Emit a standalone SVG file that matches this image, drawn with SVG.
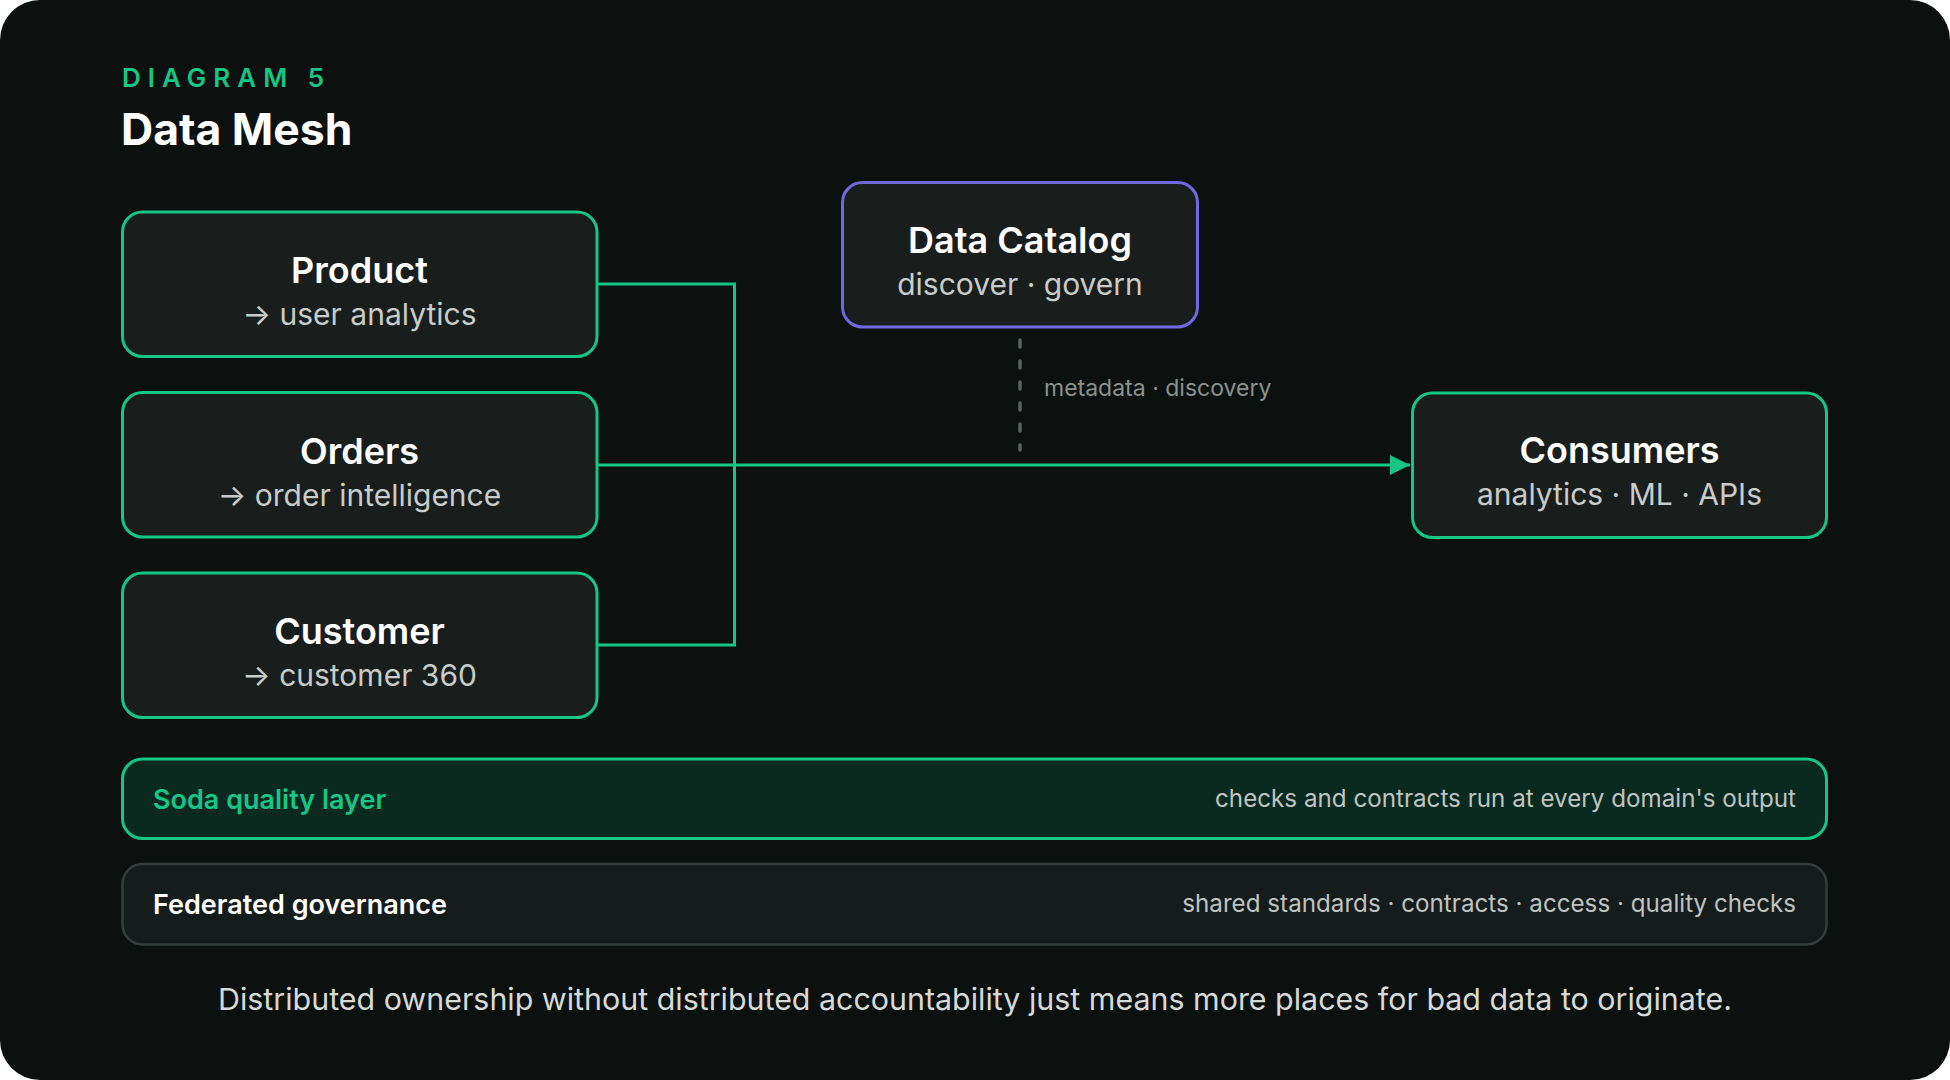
<svg xmlns="http://www.w3.org/2000/svg" width="1950" height="1080" viewBox="0 0 1950 1080">
  <defs>
    <style>
      text { font-family: Inter, "Noto Sans", "Liberation Sans", sans-serif; }
      .node { fill: #191e1d; stroke: #17c686; stroke-width: 3; }
      .cat { fill: #191e1d; stroke: #7468e0; stroke-width: 3; }
      .title { fill: #ffffff; font-size: 36px; font-weight: 600; text-anchor: middle; }
      .sub { fill: #c8ccca; font-size: 30px; font-weight: 400; text-anchor: middle; }
      .conn { fill: none; stroke: #17c686; stroke-width: 3; }
      .band-l { font-size: 27px; font-weight: 600; }
      .band-r { fill: #bfc4c2; font-size: 24.2px; font-weight: 400; text-anchor: end; }
    </style>
    <marker id="arrow" markerWidth="20" markerHeight="20" refX="20" refY="10" orient="auto" markerUnits="userSpaceOnUse">
      <path d="M0,0 L20,10 L0,20 Z" fill="#17c686"/>
    </marker>
  </defs>

  <rect x="0" y="0" width="1950" height="1080" fill="#ffffff"/>
  <rect x="0" y="0" width="1950" height="1080" rx="40" ry="40" fill="#0c1110"/>

  <g id="header">
    <text x="122" y="87" fill="#17c686" font-size="26" font-weight="600" letter-spacing="7">DIAGRAM 5</text>
    <text x="121" y="145" fill="#ffffff" font-size="44.5" font-weight="700">Data Mesh</text>
  </g>

  <g id="connectors">
    <path class="conn" d="M597,284 H734.5 V645 H597"/>
    <line class="conn" x1="597" y1="465" x2="1410" y2="465" marker-end="url(#arrow)"/>
    <line x1="1020" y1="340" x2="1020" y2="450" stroke="#5c6462" stroke-width="3.5" stroke-linecap="round" stroke-dasharray="7 14"/>
    <text x="1044" y="396" fill="#8b918f" font-size="23">metadata · discovery</text>
  </g>

  <g id="node-product">
    <rect class="node" x="122.5" y="212" width="474.5" height="144.5" rx="20"/>
    <text class="title" x="359.5" y="283">Product</text>
    <text class="sub" x="359.5" y="325">→ user analytics</text>
  </g>

  <g id="node-orders">
    <rect class="node" x="122.5" y="392.5" width="474.5" height="144.5" rx="20"/>
    <text class="title" x="359.5" y="463.5">Orders</text>
    <text class="sub" x="359.5" y="505.5">→ order intelligence</text>
  </g>

  <g id="node-customer">
    <rect class="node" x="122.5" y="573" width="474.5" height="144.5" rx="20"/>
    <text class="title" x="359.5" y="644">Customer</text>
    <text class="sub" x="359.5" y="686">→ customer 360</text>
  </g>

  <g id="node-catalog">
    <rect class="cat" x="842.5" y="182.5" width="355" height="144.5" rx="20"/>
    <text class="title" x="1020" y="253">Data Catalog</text>
    <text class="sub" x="1020" y="295">discover · govern</text>
  </g>

  <g id="node-consumers">
    <rect class="node" x="1412.5" y="393" width="414" height="144.5" rx="20"/>
    <text class="title" x="1619.5" y="463">Consumers</text>
    <text class="sub" x="1619.5" y="505">analytics · ML · APIs</text>
  </g>

  <g id="band-soda">
    <rect x="122.5" y="759" width="1704" height="79.5" rx="20" fill="#0a2a20" stroke="#17c686" stroke-width="3"/>
    <text class="band-l" x="153" y="809" fill="#17c686">Soda quality layer</text>
    <text class="band-r" x="1796" y="807">checks and contracts run at every domain's output</text>
  </g>

  <g id="band-governance">
    <rect x="122.5" y="864" width="1704" height="80.5" rx="20" fill="#161b1b" stroke="#353d3b" stroke-width="2.5"/>
    <text class="band-l" x="153" y="914" fill="#ffffff">Federated governance</text>
    <text class="band-r" x="1796" y="912">shared standards · contracts · access · quality checks</text>
  </g>

  <g id="footer">
    <text x="975" y="1010" fill="#d6dad8" font-size="30.4" text-anchor="middle">Distributed ownership without distributed accountability just means more places for bad data to originate.</text>
  </g>
</svg>
